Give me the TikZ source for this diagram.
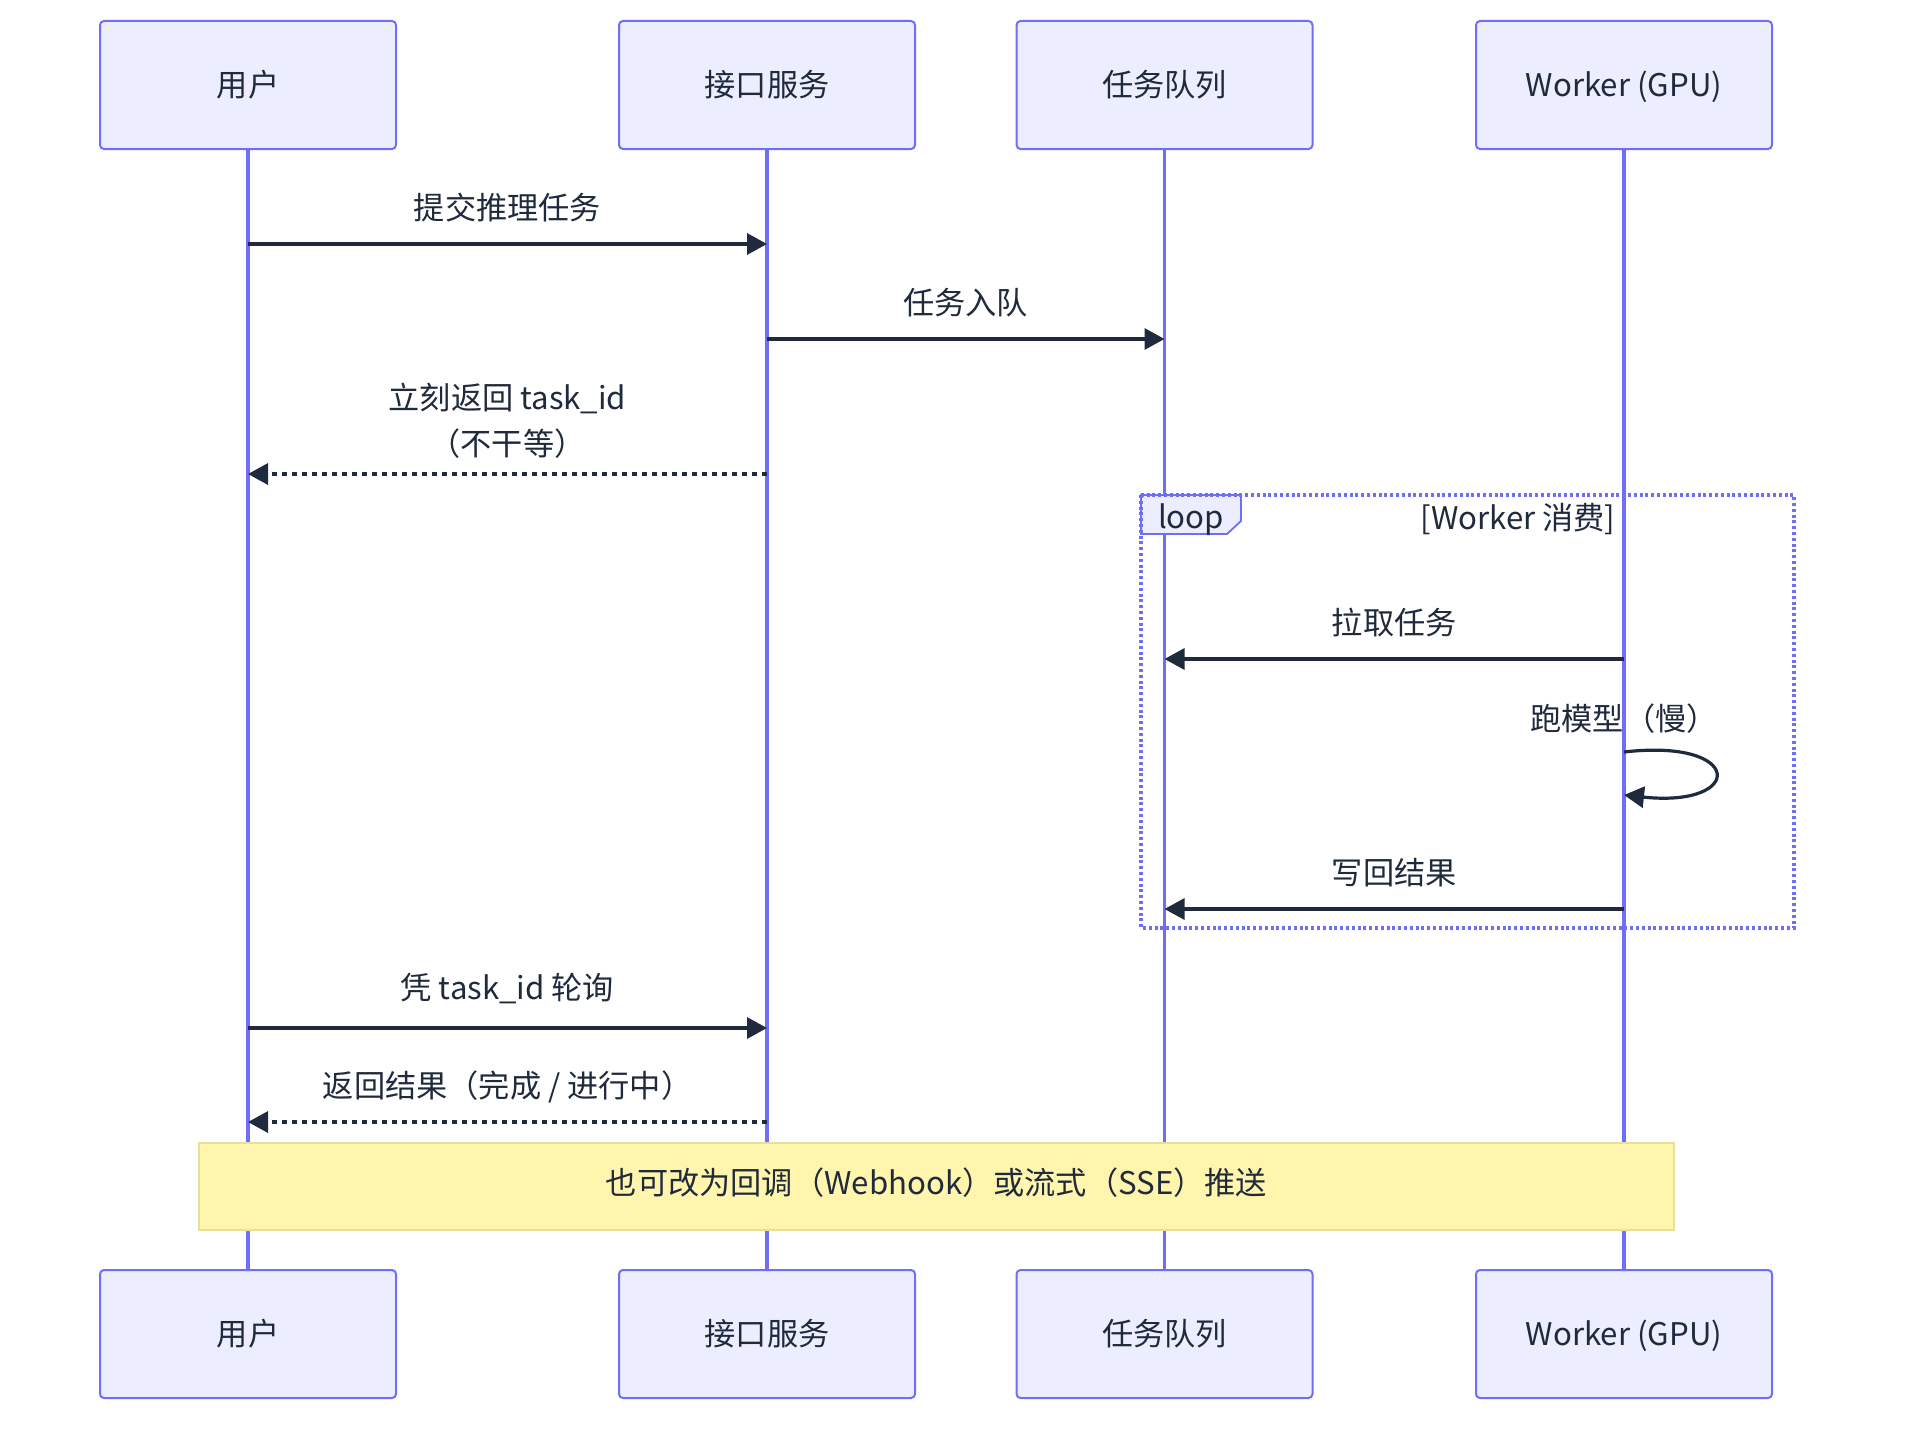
\documentclass[tikz,border=0pt]{standalone}
\usepackage{fontspec}
\setmainfont{Noto Sans CJK SC}
\usetikzlibrary{positioning, arrows.meta}

\definecolor{actorfill}{HTML}{ECEEFF}
\definecolor{actorline}{HTML}{6E6EF8}
\definecolor{ink}{HTML}{1F2A3C}
\definecolor{notefill}{HTML}{FFF5AD}
\definecolor{noteline}{HTML}{E6E09C}

\begin{document}
\begin{tikzpicture}[x=0.5pt, y=-0.5pt, on grid,
  every node/.style={font=\fontsize{15.6}{23}\selectfont, text=ink},
  actor/.style={draw=actorline, line width=1pt, fill=actorfill, rounded corners=2pt,
    minimum width=148pt, minimum height=64pt, text height=13pt, text depth=1.2pt},
  life/.style={draw=actorline, line width=1.6pt},
  msg/.style={draw=ink, line width=1.6pt, -{Triangle[length=10pt,width=10.5pt]}},
  reply/.style={msg, dash pattern=on 2.5pt off 2.5pt},
  lbl/.style={above=9.7pt, align=center, inner sep=0pt, text depth=2pt},
  loopbox/.style={draw=actorline, line width=1.6pt, dash pattern=on 1.5pt off 1.4pt},
  looptab/.style={draw=actorline, line width=0.9pt, fill=actorfill},
  note/.style={draw=noteline, line width=1pt, fill=notefill,
    minimum width=737.5pt, minimum height=43.5pt, text height=13pt, text depth=4.8pt}]
  \useasboundingbox (0,0) rectangle (1910,1434);

  % participants
  \node[actor] (u) at (248,85) {用户};
  \node[actor] (a) [right=259.5pt of u] {接口服务};
  \node[actor] (q) [right=198.75pt of a] {任务队列};
  \node[actor] (w) [right=229.75pt of q] {Worker (GPU)};

  \node[actor] (u2) [below=624.5pt of u] {用户};
  \node[actor] (a2) [below=624.5pt of a] {接口服务};
  \node[actor] (q2) [below=624.5pt of q] {任务队列};
  \node[actor] (w2) [below=624.5pt of w] {Worker (GPU)};

  \foreach \p in {u, a, q, w}
    \draw[life] (\p.south) -- (\p2.north);

  % loop frame
  \draw[looptab] (1141,495) -- (1241,495) -- (1241,521) -- (1227,534) -- (1141,534) -- cycle;
  \draw[loopbox] (1141,495) rectangle (1794,928);
  \node (lp) at (1191,520) {loop};
  \node (lc) at (1518,519) {[Worker 消费]};

  % points on the lifelines
  \coordinate (u1) at (u |- 0,244);  \coordinate (a1) at (a |- 0,244);
  \coordinate (a3) at (a |- 0,339);  \coordinate (q3) at (q |- 0,339);
  \coordinate (a4) at (a |- 0,474);  \coordinate (u4) at (u |- 0,474);
  \coordinate (w5) at (w |- 0,659);  \coordinate (q5) at (q |- 0,659);
  \coordinate (w6) at (w |- 0,752);  \coordinate (w7) at (w |- 0,795);
  \coordinate (w8) at (w |- 0,909);  \coordinate (q8) at (q |- 0,909);
  \coordinate (u9) at (u |- 0,1028); \coordinate (a9) at (a |- 0,1028);
  \coordinate (a10) at (a |- 0,1122); \coordinate (u10) at (u |- 0,1122);

  \path
    (u1) edge[msg] node[lbl] {提交推理任务} (a1)
    (a3) edge[msg] node[lbl] {任务入队} (q3)
    (a4) edge[reply] node[lbl, yshift=-3pt] {立刻返回 task\_id\\（不干等）} (u4)
    (w5) edge[msg] node[lbl] {拉取任务} (q5)
    (w8) edge[msg] node[lbl] {写回结果} (q8)
    (u9) edge[msg] node[lbl, yshift=1.8pt] {凭 task\_id 轮询} (a9)
    (a10) edge[reply] node[lbl] {返回结果（完成 / 进行中）} (u10);

  \node (run) at (w |- 0,719) {跑模型（慢）};
  \draw[msg] (w6) .. controls (1745,738) and (1745,808) .. (w7);

  \node[note] (nt) at (936.5,1186.5) {也可改为回调（Webhook）或流式（SSE）推送};
\end{tikzpicture}
\end{document}
